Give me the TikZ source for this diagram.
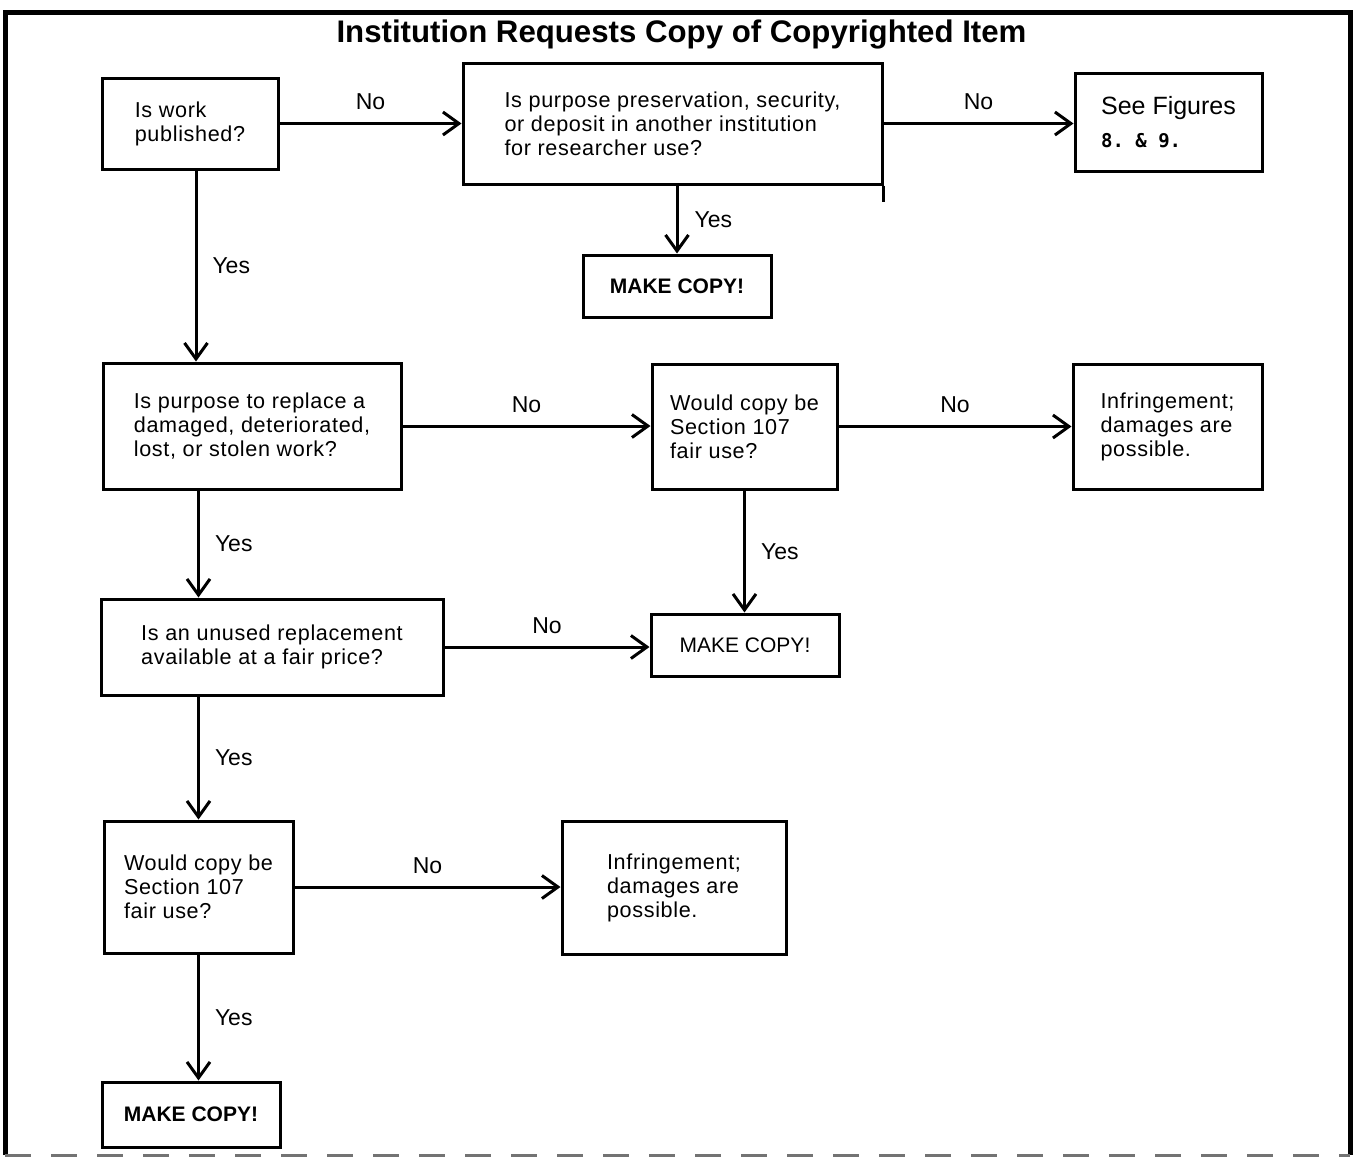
\documentclass[tikz,border=0pt]{standalone}
\usepackage{fontspec}
\setmainfont{Liberation Sans}
\newfontfamily\cajafont[LetterSpace=3]{Liberation Sans}
\newfontfamily\monofont{DejaVu Sans Mono}
\usetikzlibrary{arrows.meta}

\tikzset{
  caja/.style={draw, line width=1.5pt, align=left, inner sep=0pt,
    font=\cajafont\fontsize{10.8}{12}\selectfont},
  copia/.style={draw, line width=1.5pt, inner sep=0pt,
    font=\bfseries\fontsize{10.5}{12}\selectfont},
  flecha/.style={line width=1.5pt, -{Straight Barb[length=8pt,width=11.5pt]}},
  etiqueta/.style={font=\fontsize{11.5}{13}\selectfont, inner sep=0pt},
}

\begin{document}
\begin{tikzpicture}[x=0.5pt, y=-0.5pt] % {{{
\useasboundingbox (0,0) rectangle (1357,1157);
% marco
\draw[line width=2.5pt] (5,1155) -- (5,12) -- (1350,12) -- (1350,1155);
\draw[line width=1.5pt, black!55, dash pattern=on 13pt off 10pt] (5,1155) -- (1350,1155);
\node[font=\bfseries\fontsize{15.6}{18}\selectfont] (titulo) at (681.5,34) {Institution Requests Copy of Copyrighted Item};

% Fila de arriba {{{
\node[caja, minimum width=88pt, minimum height=45.5pt] (pub) at (190,123.5) {Is work\\published?};
\node[caja, minimum width=209.5pt, minimum height=60.5pt] (pres) at (672.5,123.5)
  {Is purpose preservation, security,\\or deposit in another institution\\for researcher use?};
\draw[line width=1.5pt] (pres.south east) -- ++(0,16);
\node[caja, minimum width=93.5pt, minimum height=49pt,
  font=\fontsize{12.5}{16.5}\selectfont] (figs) at (1168.5,122)
  {See Figures\\{\monofont\bfseries\fontsize{9.5}{12}\selectfont 8.~\&~9.}};
\node[copia, minimum width=94pt, minimum height=31pt] (copia1) at (677,286) {MAKE COPY!};
% }}}

% Fila del medio {{{
\node[caja, minimum width=149pt, minimum height=63pt] (repl) at (252,426)
  {Is purpose to replace a\\damaged, deteriorated,\\lost, or stolen work?};
\node[caja, minimum width=92.5pt, minimum height=62.5pt] (justo1) at (744.5,426.5)
  {Would copy be\\Section 107\\fair use?};
\node[caja, minimum width=94.5pt, minimum height=62.5pt] (infr1) at (1167.5,426.5)
  {Infringement;\\damages are\\possible.};
\node[caja, minimum width=171pt, minimum height=48pt] (nuevo) at (272,647)
  {Is an unused replacement\\available at a fair price?};
\node[copia, minimum width=94pt, minimum height=31pt,
  font=\fontsize{10.5}{12}\selectfont] (copia2) at (745,645) {MAKE COPY!};
% }}}

% Fila de abajo {{{
\node[caja, minimum width=94.5pt, minimum height=66pt] (justo2) at (198.5,887)
  {Would copy be\\Section 107\\fair use?};
\node[caja, minimum width=112pt, minimum height=66.5pt] (infr2) at (674,887.5)
  {Infringement;\\damages are\\possible.};
\node[copia, minimum width=89pt, minimum height=32.5pt] (copia3) at (191,1114.5) {MAKE COPY!};
% }}}

% Flechas {{{
\draw[flecha] (pub.east) -- (pub.east -| pres.west) node[etiqueta, midway, above=6pt] {No};
\draw[flecha] (pres.east) -- (pres.east -| figs.west) node[etiqueta, midway, above=6pt] {No};
\draw[flecha] (pres.south -| copia1.north) -- (copia1.north) node[etiqueta, midway, right=8pt] {Yes};
\draw[flecha] ([xshift=3pt]pub.south) -- ([xshift=3pt]pub.south |- repl.north) node[etiqueta, midway, right=7.5pt] {Yes};
\draw[flecha] (repl.east) -- (repl.east -| justo1.west) node[etiqueta, midway, above=6pt] {No};
\draw[flecha] (justo1.east) -- (justo1.east -| infr1.west) node[etiqueta, midway, above=6pt] {No};
\draw[flecha] (justo1.south) -- (justo1.south |- copia2.north) node[etiqueta, midway, right=7.5pt] {Yes};
\draw[flecha] (repl.south -| justo2.north) -- (nuevo.north -| justo2.north) node[etiqueta, midway, right=7.5pt] {Yes};
\draw[flecha] (nuevo.east) -- (nuevo.east -| copia2.west) node[etiqueta, midway, above=6pt] {No};
\draw[flecha] (nuevo.south -| justo2.north) -- (justo2.north) node[etiqueta, midway, right=7.5pt] {Yes};
\draw[flecha] (justo2.east) -- (justo2.east -| infr2.west) node[etiqueta, midway, above=6pt] {No};
\draw[flecha] (justo2.south) -- (justo2.south |- copia3.north) node[etiqueta, midway, right=7.5pt] {Yes};
% }}}
\end{tikzpicture} % }}}
\end{document}
